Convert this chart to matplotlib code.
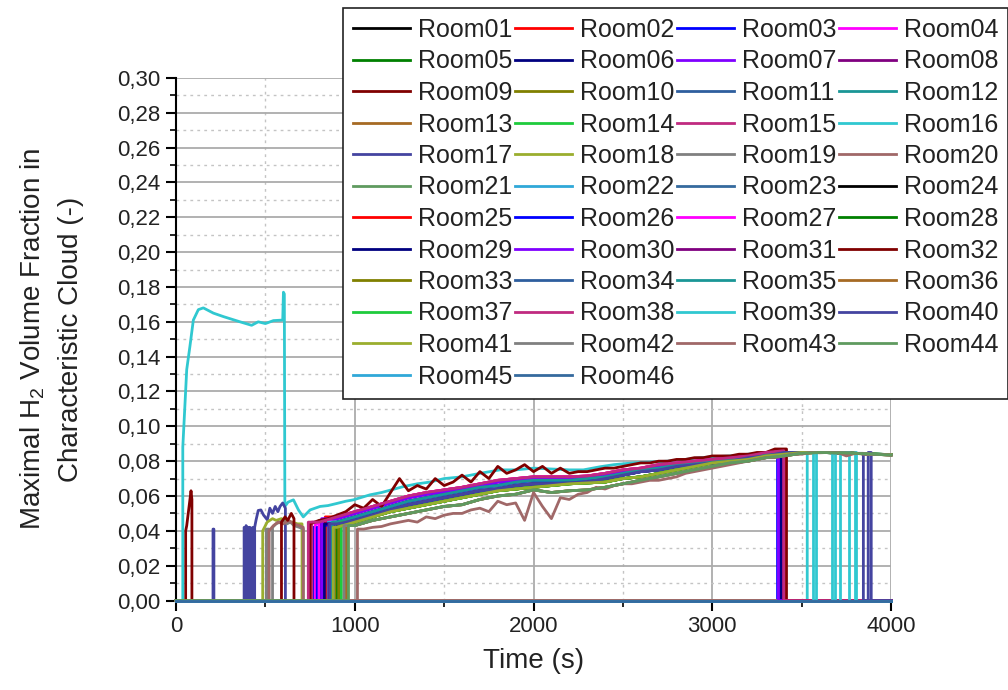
import numpy as np
import matplotlib
matplotlib.use('Agg')
import matplotlib.pyplot as plt
from matplotlib.ticker import MultipleLocator, FuncFormatter

plt.rcParams['font.family'] = ['Liberation Sans', 'DejaVu Sans']
plt.rcParams['mathtext.fontset'] = 'custom'
plt.rcParams['mathtext.rm'] = 'Liberation Sans'
plt.rcParams['mathtext.it'] = 'Liberation Sans:italic'

T_END = 4000

# colour cycle for the 46 rooms (23 colours, used twice)
room_colors = ['#000000', '#ff0000', '#0000ff', '#ff00ff', '#008000', '#000080',
               '#8000ff', '#800080', '#800000', '#808000', '#2e5e9e', '#1a9696',
               '#a66a24', '#1ecb3c', '#c02a80', '#30c8d0', '#4444a0', '#9aae2e',
               '#808080', '#a06868', '#5f9a5f', '#30a8d8', '#356a9e']

# band profiles sampled every 100 s from 700 s to 4000 s
t_band = np.arange(700, 4001, 100)
pink = [0.041, 0.045, 0.048, 0.051, 0.054, 0.057, 0.060, 0.062, 0.0635, 0.065,
        0.067, 0.069, 0.070, 0.071, 0.071, 0.071, 0.0715, 0.073, 0.075, 0.076,
        0.078, 0.079, 0.080, 0.081, 0.082, 0.083, 0.085, 0.086, 0.085, 0.085,
        0.0848, 0.0845, 0.084, 0.0838]
magenta = [0.040, 0.044, 0.047, 0.050, 0.053, 0.056, 0.059, 0.061, 0.0625, 0.064,
           0.066, 0.068, 0.069, 0.070, 0.070, 0.0705, 0.071, 0.072, 0.074, 0.075,
           0.077, 0.078, 0.079, 0.080, 0.081, 0.0825, 0.084, 0.086, 0.085, 0.085,
           0.0848, 0.0845, 0.084, 0.0838]
blue = [0.040, 0.042, 0.045, 0.048, 0.051, 0.054, 0.057, 0.059, 0.061, 0.063,
        0.065, 0.066, 0.068, 0.069, 0.069, 0.069, 0.070, 0.071, 0.073, 0.075,
        0.076, 0.078, 0.079, 0.080, 0.081, 0.0825, 0.084, 0.085, 0.085, 0.085,
        0.0848, 0.0845, 0.084, 0.0838]
navy = [0.040, 0.041, 0.044, 0.046, 0.049, 0.052, 0.055, 0.057, 0.059, 0.061,
        0.063, 0.064, 0.066, 0.067, 0.067, 0.0675, 0.068, 0.070, 0.072, 0.074,
        0.075, 0.077, 0.078, 0.079, 0.080, 0.082, 0.083, 0.085, 0.085, 0.085,
        0.0848, 0.0845, 0.084, 0.0838]
yellowgreen = [0.040, 0.040, 0.042, 0.045, 0.048, 0.051, 0.053, 0.055, 0.057, 0.059,
               0.061, 0.063, 0.064, 0.065, 0.066, 0.067, 0.0675, 0.068, 0.070, 0.071,
               0.073, 0.075, 0.077, 0.079, 0.080, 0.081, 0.083, 0.084, 0.085, 0.085,
               0.0848, 0.0845, 0.084, 0.0838]
grey = [0.040, 0.040, 0.041, 0.043, 0.046, 0.048, 0.050, 0.052, 0.054, 0.055,
        0.058, 0.060, 0.061, 0.0635, 0.062, 0.063, 0.0635, 0.065, 0.067, 0.069,
        0.071, 0.073, 0.075, 0.077, 0.079, 0.080, 0.082, 0.083, 0.0845, 0.085,
        0.0848, 0.0845, 0.084, 0.0835]

# lowest, noisy trace (every 50 s from 1000 s)
t_rosy = np.arange(1000, 4001, 50)
rosy = [0.040, 0.041, 0.042, 0.0425, 0.044, 0.045, 0.046, 0.045, 0.048, 0.047,
        0.049, 0.050, 0.050, 0.052, 0.053, 0.051, 0.057, 0.055, 0.056, 0.046,
        0.062, 0.054, 0.047, 0.059, 0.058, 0.061, 0.062, 0.065, 0.064, 0.066,
        0.067, 0.067, 0.068, 0.069, 0.069, 0.070, 0.071, 0.073, 0.074, 0.075,
        0.076, 0.077, 0.078, 0.079, 0.080, 0.081, 0.082, 0.082, 0.083, 0.084,
        0.084, 0.085, 0.0848, 0.085, 0.085, 0.083, 0.0845, 0.084, 0.0838, 0.0838,
        0.0835]

# spiky dark-red trace (every 50 s from 750 s)
t_wine = np.arange(750, 3401, 50)
wine = [0.044, 0.046, 0.047, 0.049, 0.051, 0.055, 0.053, 0.058, 0.054, 0.062,
        0.070, 0.063, 0.066, 0.064, 0.070, 0.066, 0.068, 0.072, 0.068, 0.074,
        0.070, 0.077, 0.073, 0.075, 0.078, 0.074, 0.077, 0.073, 0.076, 0.073,
        0.074, 0.074, 0.075, 0.076, 0.076, 0.077, 0.078, 0.079, 0.079, 0.080,
        0.080, 0.081, 0.081, 0.082, 0.082, 0.083, 0.083, 0.083, 0.084, 0.084,
        0.085, 0.085, 0.087, 0.087]

# room with the early release
t_cyan = [32, 38, 60, 78, 97, 125, 153, 209, 265, 358, 423, 460, 500, 545, 597,
          601, 606, 609, 627, 657, 685, 712, 750, 806, 850, 899, 950, 992, 1086,
          1150, 1272, 1350, 1421, 1500, 1600, 1700, 1813, 1900, 2000, 2100, 2200,
          2279, 2373, 2450, 2557, 2650, 2750, 2850, 2932, 3000, 3100, 3200, 3300,
          3400, 3450, 3500, 3531]
cyan = [0.0, 0.088, 0.1326, 0.146, 0.161, 0.167, 0.168, 0.165, 0.163, 0.160,
        0.158, 0.160, 0.159, 0.1607, 0.161, 0.177, 0.176, 0.054, 0.0565, 0.0578,
        0.052, 0.048, 0.052, 0.054, 0.0545, 0.0557, 0.057, 0.0578, 0.0607, 0.062,
        0.0654, 0.067, 0.068, 0.070, 0.071, 0.073, 0.075, 0.075, 0.076, 0.0755,
        0.075, 0.075, 0.0768, 0.078, 0.079, 0.0795, 0.080, 0.081, 0.082, 0.0825,
        0.083, 0.084, 0.0845, 0.085, 0.085, 0.085, 0.085]

# short early traces
t_r09 = [54, 60, 84, 89]
v_r09 = [0.040, 0.043, 0.063, 0.058]
t_r17 = [[207, 212], [381, 386], [392, 400], [406, 414], [420, 430],
         [440, 448, 460, 475, 490, 511, 525, 540, 555, 570, 582, 597, 612]]
v_r17 = [[0.041, 0.041], [0.042, 0.042], [0.043, 0.041], [0.042, 0.042], [0.041, 0.042],
         [0.042, 0.0463, 0.0517, 0.052, 0.049, 0.0463, 0.053, 0.050, 0.054, 0.051,
          0.054, 0.056, 0.053]]
t_r18 = [485, 510, 540, 560, 590, 620, 650, 680, 705]
v_r18 = [0.040, 0.045, 0.047, 0.046, 0.047, 0.045, 0.045, 0.044, 0.044]
t_r19 = [[505, 520], [540, 560, 580, 600, 620, 640, 660, 690, 712]]
v_r19 = [[0.041, 0.041], [0.042, 0.044, 0.045, 0.046, 0.044, 0.045, 0.043, 0.042, 0.041]]
t_r20 = [520, 545, 570, 600, 630, 660, 690, 712]
v_r20 = [0.040, 0.043, 0.045, 0.044, 0.046, 0.044, 0.043, 0.042]
t_r32 = [590, 610, 625, 645, 660]
v_r32 = [0.045, 0.048, 0.046, 0.050, 0.047]

# short on-periods at the end of the run
t_r39 = [[3565, 3581], [3671, 3687], [3715, 3766], [3799, 3802]]
v_r39 = [[0.085, 0.085], [0.085, 0.085], [0.085, 0.085], [0.085, 0.085]]
t_r40_late = [3872, 3889]
v_r40_late = [0.085, 0.085]

# band rooms: profile, switch-on time, switch-off time
band_rooms = {
    2: ('blue', 820, 3405), 3: ('blue', 767, 3365), 4: ('magenta', 780, 3390),
    5: ('yellowgreen', 900, 4000), 6: ('navy', 810, 3380), 7: ('blue', 830, 3372),
    8: ('magenta', 845, 3388), 10: ('yellowgreen', 890, 4000), 11: ('navy', 870, 3395),
    12: ('blue', 880, 4000), 13: ('grey', 950, 4000), 14: ('yellowgreen', 920, 4000),
    15: ('pink', 760, 3395), 21: ('grey', 960, 4000), 22: ('blue', 850, 4000),
    23: ('navy', 880, 4000), 25: ('pink', 835, 3410), 26: ('blue', 790, 3375),
    27: ('pink', 800, 3392), 28: ('yellowgreen', 905, 4000), 29: ('navy', 830, 3385),
    30: ('magenta', 815, 3370), 31: ('navy', 855, 3398), 33: ('yellowgreen', 910, 4000),
    34: ('navy', 865, 4000), 35: ('blue', 875, 4000), 36: ('grey', 955, 4000),
    37: ('yellowgreen', 925, 4000), 38: ('pink', 740, 3400), 40: ('navy', 860, 3845),
    41: ('yellowgreen', 880, 4000), 42: ('grey', 940, 4000), 44: ('grey', 965, 4000),
}
profiles = {'pink': pink, 'magenta': magenta, 'blue': blue, 'navy': navy,
            'yellowgreen': yellowgreen, 'grey': grey}


def clip(t_prof, v_prof, t_on, t_off):
    t_prof = np.asarray(t_prof)
    v_prof = np.asarray(v_prof)
    i0 = min(np.searchsorted(t_prof, t_on), len(t_prof) - 1)
    i1 = max(np.searchsorted(t_prof, t_off, side='right') - 1, 0)
    inside = (t_prof > t_on) & (t_prof < t_off)
    t = [t_on] + list(t_prof[inside]) + [t_off]
    v = [v_prof[i0]] + list(v_prof[inside]) + [v_prof[i1]]
    return t, v


def build(segments):
    # each segment switches on from zero and back to zero
    x, y = [0], [0.0]
    for t, v in segments:
        x += [t[0]] + list(t)
        y += [0.0] + list(v)
        if t[-1] < T_END:
            x.append(t[-1])
            y.append(0.0)
    if x[-1] < T_END:
        x.append(T_END)
        y.append(0.0)
    return x, y


room_segments = {n: [] for n in range(1, 47)}
for n, (name, t_on, t_off) in band_rooms.items():
    room_segments[n].append(clip(t_band, profiles[name], t_on, t_off))
room_segments[9] = [(t_r09, v_r09)]
room_segments[16] = [(t_cyan[1:], cyan[1:])]
room_segments[17] = list(zip(t_r17, v_r17))
room_segments[18] = [(t_r18, v_r18)]
room_segments[19] = list(zip(t_r19, v_r19))
room_segments[20] = [(t_r20, v_r20)]
room_segments[32] = [(t_r32, v_r32), clip(t_wine, wine, 750, 3415)]
room_segments[39] = list(zip(t_r39, v_r39))
room_segments[40].append((t_r40_late, v_r40_late))
room_segments[43] = [clip(t_rosy, rosy, 1015, 4000)]

fig = plt.figure(figsize=(10.08, 6.9), dpi=100)
ax = fig.add_axes([0.1746, 0.1297, 0.7094, 0.7573])

handles = []
for n in range(1, 47):
    x, y = build(room_segments[n])
    line, = ax.plot(x, y, color=room_colors[(n - 1) % 23], lw=2.0,
                    label='Room%02d' % n, clip_on=False, zorder=3)
    handles.append(line)

ax.set_xlim(0, 4000)
ax.set_ylim(0, 0.30)
ax.xaxis.set_major_locator(MultipleLocator(1000))
ax.xaxis.set_minor_locator(MultipleLocator(500))
ax.yaxis.set_major_locator(MultipleLocator(0.02))
ax.yaxis.set_minor_locator(MultipleLocator(0.01))
ax.yaxis.set_major_formatter(FuncFormatter(lambda v, p: ('%.2f' % v).replace('.', ',')))

ax.set_axisbelow(True)
ax.grid(which='major', color='#ababab', lw=1.3, ls='-')
ax.grid(which='minor', color='#c4c4c4', lw=1.0, ls=(0, (2, 3)))

for side in ['top', 'right']:
    ax.spines[side].set_visible(False)
for side in ['left', 'bottom']:
    ax.spines[side].set_linewidth(1.5)
    ax.spines[side].set_color('black')
ax.tick_params(which='major', direction='out', length=7, width=1.5,
               labelsize=16, labelcolor='#222222', pad=4)
ax.tick_params(which='minor', direction='out', length=4, width=1.2)

fig.canvas.draw()
ax.get_ygridlines()[-1].set_visible(False)
ax.get_xgridlines()[-1].set_visible(False)

ax.set_xlabel('Time (s)', fontsize=20, color='#222222', labelpad=8)
ax.set_ylabel('Maximal H$_2$ Volume Fraction in\nCharacteristic Cloud (-)',
              fontsize=20, color='#222222', linespacing=1.55)
ax.yaxis.set_label_coords(-0.128, 0.5)

# legend filled row by row, four columns
order = [h for k in range(4) for h in handles[k::4]]
leg = fig.legend(order, [h.get_label() for h in order], ncol=4, fontsize=18,
                 loc='upper right', bbox_to_anchor=(1.0, 682 / 690),
                 bbox_transform=fig.transFigure, frameon=True, fancybox=False,
                 framealpha=1, edgecolor='#222222', borderpad=0.4,
                 labelspacing=0.3, handlelength=2.3, handletextpad=0.3,
                 columnspacing=0.1, borderaxespad=0)
leg.set_zorder(10)
leg.get_frame().set_linewidth(1.2)
for txt in leg.get_texts():
    txt.set_color('#222222')

fig.savefig('out.png', dpi=100)
